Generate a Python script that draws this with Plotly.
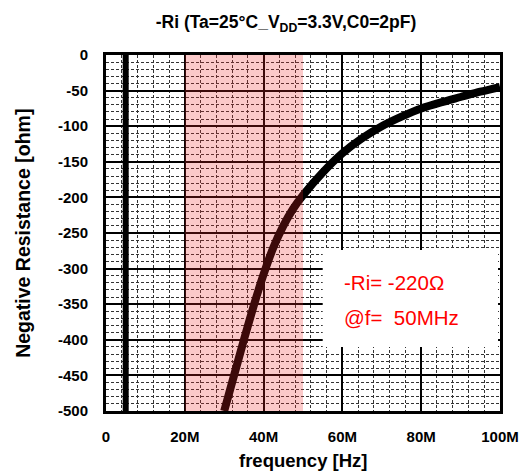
import plotly.graph_objects as go

# ---- data ----
curve_freq_mhz = [30.0, 32.5, 35.0, 37.5, 40.0, 42.5, 45.0, 47.5, 50.0, 55.0, 60.0, 65.0,
                  70.0, 75.0, 80.0, 85.0, 90.0, 95.0, 100.0]
curve_ri = [-500, -450, -400, -352, -308, -270, -240, -216, -197, -165, -138, -117,
            -100, -86.5, -75, -66.5, -59, -51.5, -45]

spike_freq_mhz = [5.0, 5.0]
spike_ri = [-500, 0]

band_mhz = [20, 50]

x_tickvals_mhz = [0, 20, 40, 60, 80, 100]
x_ticktext = ["0", "20M", "40M", "60M", "80M", "100M"]
y_tickvals = [0, -50, -100, -150, -200, -250, -300, -350, -400, -450, -500]
y_ticktext = ["0", "-50", "-100", "-150", "-200", "-250", "-300", "-350", "-400", "-450", "-500"]

note_lines = ["-Ri= -220Ω", "@f=  50MHz"]

M = 1e6
FONT = "Liberation Sans, Arial, Helvetica, sans-serif"

fig = go.Figure()

fig.add_trace(go.Scatter(
    x=[f * M for f in spike_freq_mhz], y=spike_ri,
    mode="lines", line=dict(color="black", width=6),
    showlegend=False, hoverinfo="skip"))

fig.add_trace(go.Scatter(
    x=[f * M for f in curve_freq_mhz], y=curve_ri,
    mode="lines", line=dict(color="black", width=8, shape="spline", smoothing=0.7),
    showlegend=False))

# pink band, drawn on top (translucent)
fig.add_shape(type="rect", xref="x", yref="paper",
              x0=band_mhz[0] * M, x1=band_mhz[1] * M, y0=0, y1=1,
              fillcolor="rgba(240,40,40,0.25)", line=dict(width=0), layer="above")

# white box behind the note
fig.add_shape(type="rect", xref="x", yref="y",
              x0=55 * M, x1=99.5 * M, y0=-410, y1=-274,
              fillcolor="white", line=dict(width=0), layer="between")

fig.add_annotation(x=60.0 * M, y=-320, xref="x", yref="y", text=note_lines[0],
                   showarrow=False, xanchor="left", yanchor="middle",
                   font=dict(family=FONT, size=20.5, color="#ff0000"))
fig.add_annotation(x=60.0 * M, y=-368, xref="x", yref="y", text=note_lines[1],
                   showarrow=False, xanchor="left", yanchor="middle",
                   font=dict(family=FONT, size=20.5, color="#ff0000"))

# axis titles
fig.add_annotation(x=-0.211, y=0.5, xref="paper", yref="paper",
                   text="Negative Resistance [ohm]", textangle=-90, showarrow=False,
                   xanchor="center", yanchor="middle",
                   font=dict(family=FONT, size=19.5, color="black", weight="bold"))
fig.add_annotation(x=0.5, y=-0.138, xref="paper", yref="paper",
                   text="frequency [Hz]", showarrow=False,
                   xanchor="center", yanchor="middle",
                   font=dict(family=FONT, size=18.5, color="black", weight="bold"))

fig.update_layout(
    width=520, height=471,
    margin=dict(l=106, r=20, t=55, b=60),
    paper_bgcolor="white", plot_bgcolor="white",
    title=dict(text="-Ri (Ta=25°C_V<sub>DD</sub>=3.3V,C0=2pF)",
               x=0.55, xanchor="center", y=0.953, yanchor="middle",
               font=dict(family=FONT, size=17.5, color="black", weight="bold")),
    showlegend=False,
)

fig.update_xaxes(
    automargin=False, ticklabeloverflow="allow",
    range=[0, 100 * M], tickmode="array",
    tickvals=[v * M for v in x_tickvals_mhz], ticktext=x_ticktext,
    showgrid=True, gridcolor="black", gridwidth=2,
    showline=True, linecolor="black", linewidth=3, mirror=True,
    ticks="", ticklabelstandoff=10, zeroline=False,
    tickfont=dict(family=FONT, size=15, color="black", weight="bold"),
    minor=dict(tickmode="linear", tick0=0, dtick=4 * M, showgrid=True,
               gridcolor="#333", gridwidth=1, griddash="3px,2px", ticks=""),
)
fig.update_yaxes(
    automargin=False,
    range=[-500, 0], tickmode="array",
    tickvals=y_tickvals, ticktext=y_ticktext,
    showgrid=True, gridcolor="black", gridwidth=2,
    showline=True, linecolor="black", linewidth=3, mirror=True,
    ticks="", ticklabelstandoff=12, zeroline=False,
    tickfont=dict(family=FONT, size=15, color="black", weight="bold"),
    minor=dict(tickmode="linear", tick0=0, dtick=10, showgrid=True,
               gridcolor="#333", gridwidth=1, griddash="3px,2px", ticks=""),
)

fig.write_html("out.html")
